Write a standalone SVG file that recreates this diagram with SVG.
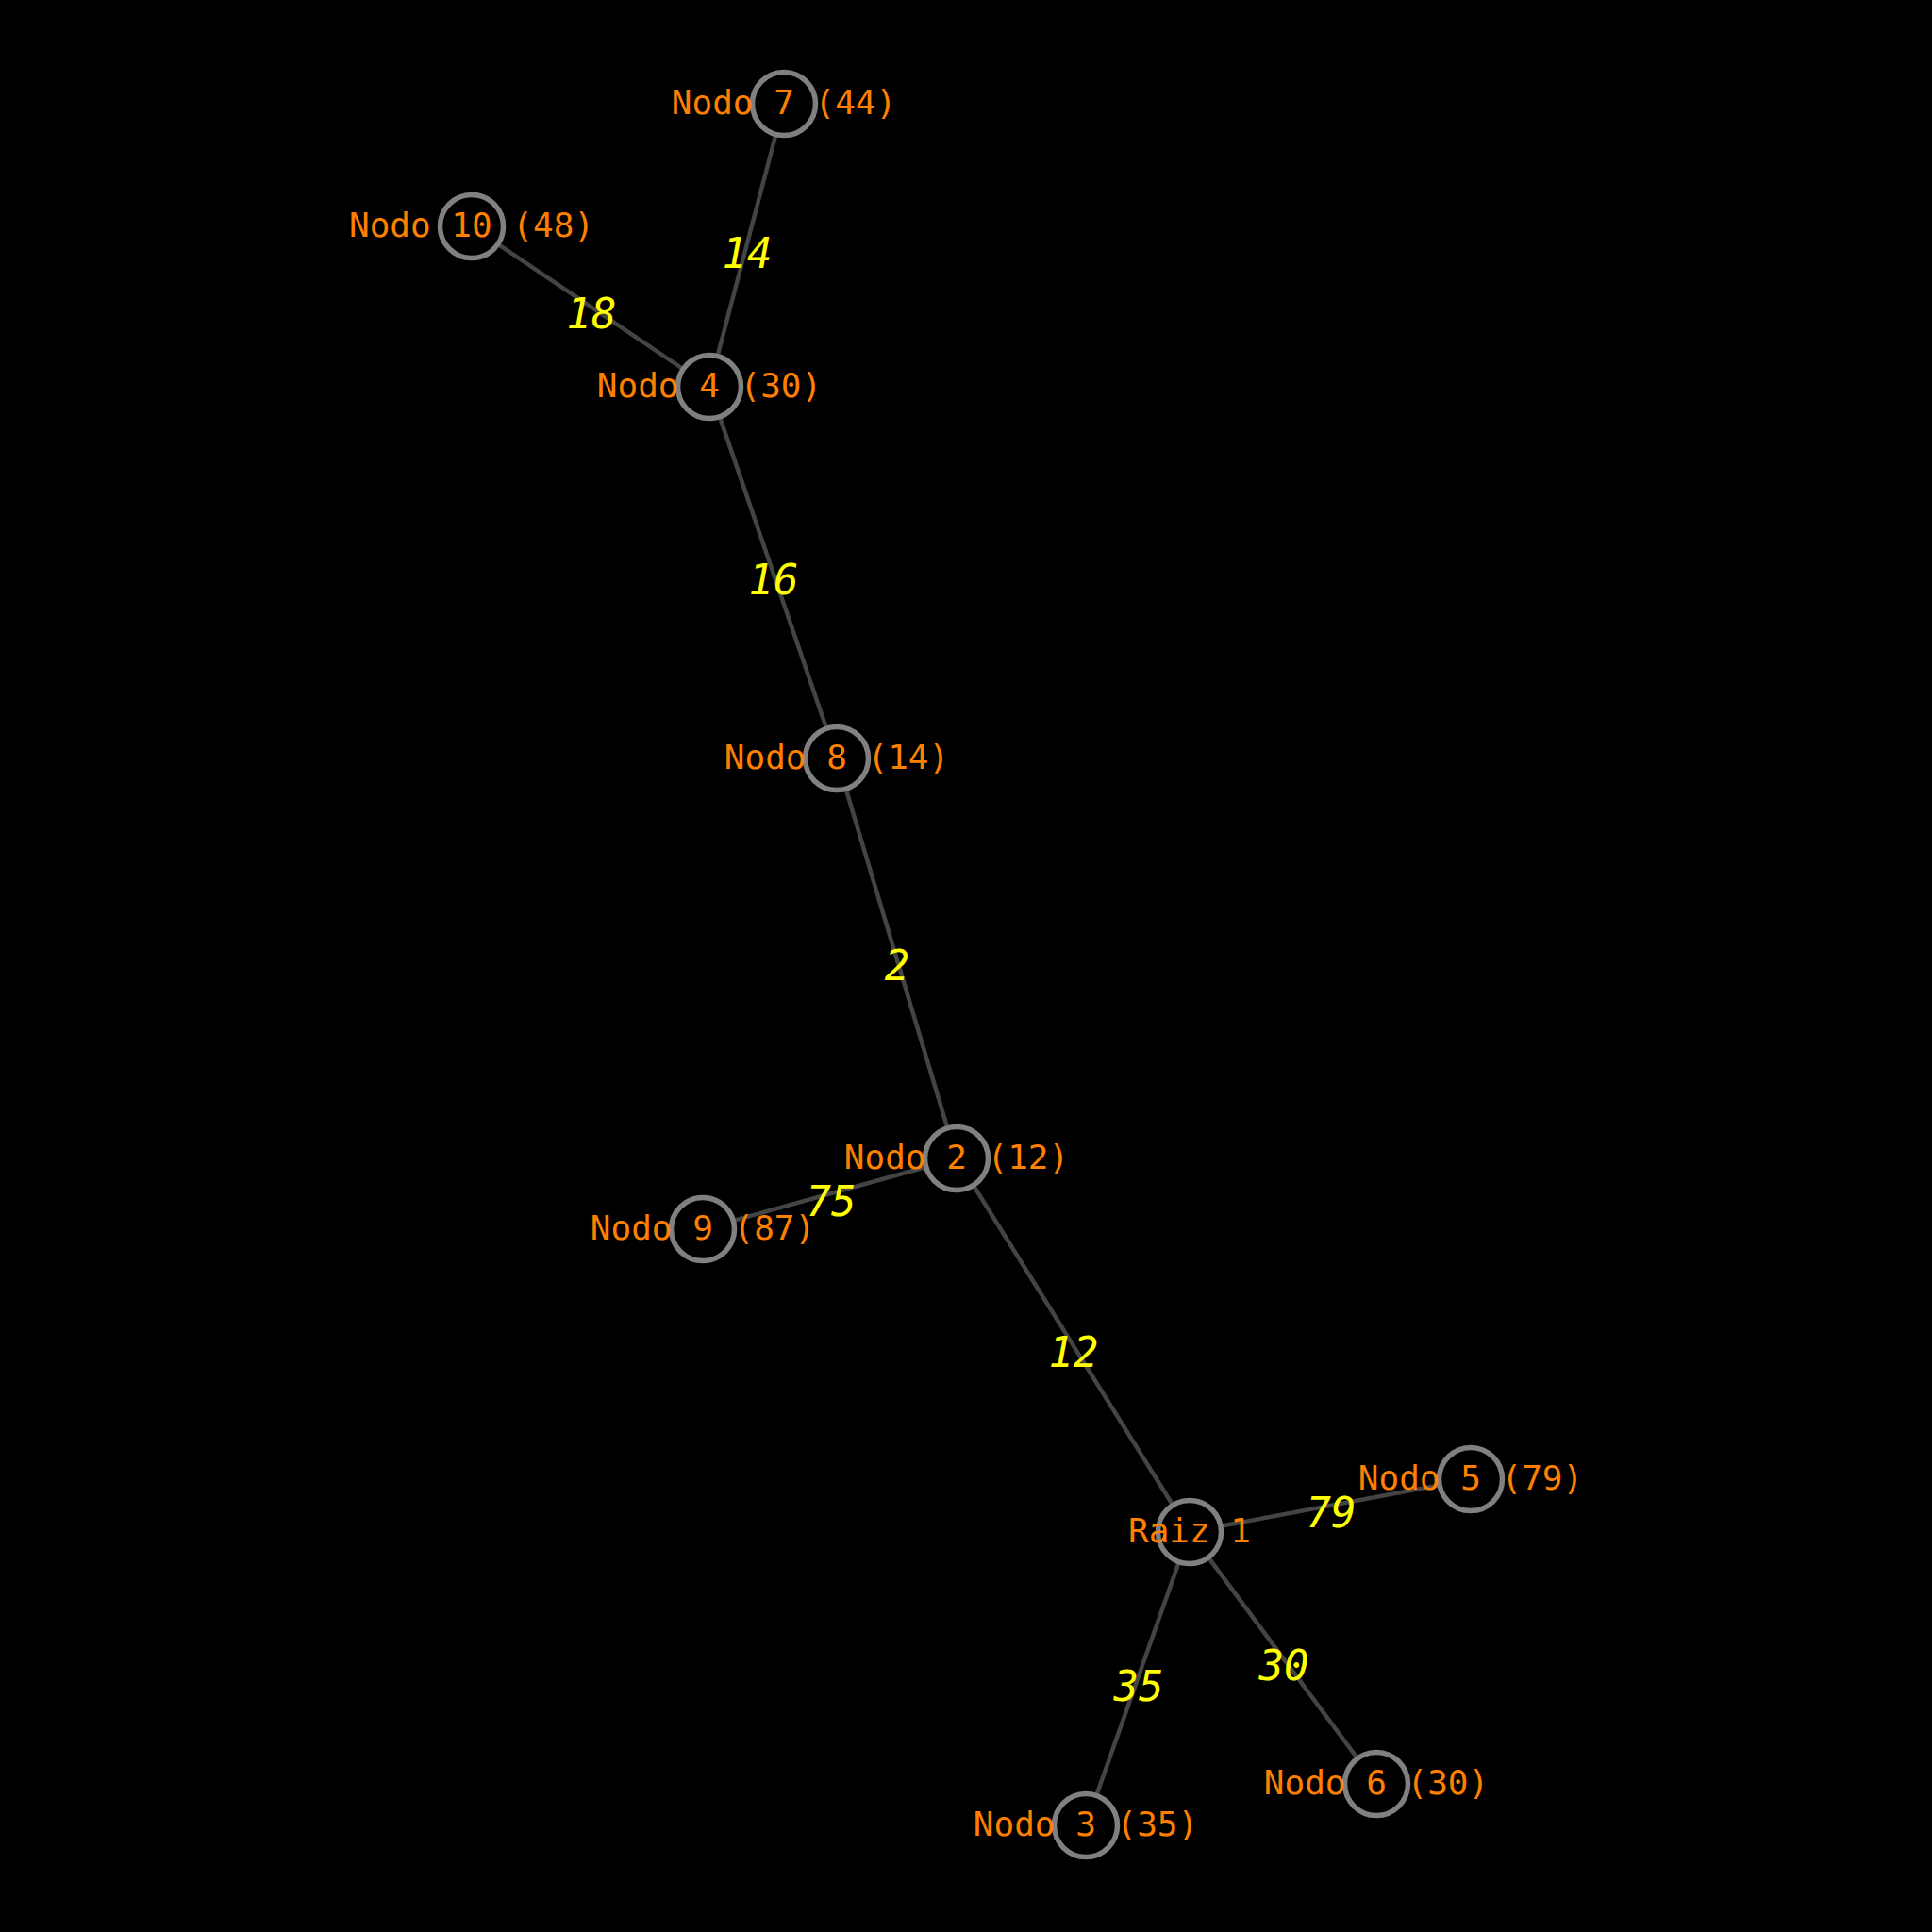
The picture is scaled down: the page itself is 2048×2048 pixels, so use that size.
<svg xmlns="http://www.w3.org/2000/svg" width="2048" height="2048" viewBox="0 0 2048 2048">
<style>
.edge{stroke:#444444;stroke-width:4.5;fill:none}
.node circle{fill:#000000;stroke:#808080;stroke-width:5.5}
.node text{font-family:"DejaVu Sans Mono","Liberation Mono",monospace;font-size:36px;fill:#ff8000;text-anchor:middle}
.elabel{font-family:"DejaVu Sans Mono","Liberation Mono",monospace;font-size:44px;font-style:italic;fill:#ffff00;text-anchor:middle}
</style>
<rect x="0" y="0" width="2048" height="2048" fill="#000000"/>
<g id="connectors">
<line class="edge" x1="831" y1="110" x2="752" y2="410"/>
<line class="edge" x1="500" y1="240" x2="752" y2="410"/>
<line class="edge" x1="752" y1="410" x2="887" y2="804"/>
<line class="edge" x1="887" y1="804" x2="1014" y2="1228"/>
<line class="edge" x1="1014" y1="1228" x2="745" y2="1303"/>
<line class="edge" x1="1014" y1="1228" x2="1261" y2="1624"/>
<line class="edge" x1="1261" y1="1624" x2="1559" y2="1568"/>
<line class="edge" x1="1261" y1="1624" x2="1459" y2="1891"/>
<line class="edge" x1="1261" y1="1624" x2="1151" y2="1935"/>
</g>
<g id="node7" class="node"><circle cx="831" cy="110" r="33.5"/><text x="831" y="121">Nodo 7 (44)</text></g>
<g id="node10" class="node"><circle cx="500" cy="240" r="33.5"/><text x="500" y="251">Nodo 10 (48)</text></g>
<g id="node4" class="node"><circle cx="752" cy="410" r="33.5"/><text x="752" y="421">Nodo 4 (30)</text></g>
<g id="node8" class="node"><circle cx="887" cy="804" r="33.5"/><text x="887" y="815">Nodo 8 (14)</text></g>
<g id="node2" class="node"><circle cx="1014" cy="1228" r="33.5"/><text x="1014" y="1239">Nodo 2 (12)</text></g>
<g id="node9" class="node"><circle cx="745" cy="1303" r="33.5"/><text x="745" y="1314">Nodo 9 (87)</text></g>
<g id="node1" class="node"><circle cx="1261" cy="1624" r="33.5"/><text x="1261" y="1635">Raiz 1</text></g>
<g id="node5" class="node"><circle cx="1559" cy="1568" r="33.5"/><text x="1559" y="1579">Nodo 5 (79)</text></g>
<g id="node6" class="node"><circle cx="1459" cy="1891" r="33.5"/><text x="1459" y="1902">Nodo 6 (30)</text></g>
<g id="node3" class="node"><circle cx="1151" cy="1935" r="33.5"/><text x="1151" y="1946">Nodo 3 (35)</text></g>
<g id="edge-labels">
<text class="elabel" x="792" y="284">14</text>
<text class="elabel" x="627" y="348">18</text>
<text class="elabel" x="820" y="630">16</text>
<text class="elabel" x="951" y="1039">2</text>
<text class="elabel" x="881" y="1289">75</text>
<text class="elabel" x="1138" y="1449">12</text>
<text class="elabel" x="1411" y="1619">79</text>
<text class="elabel" x="1361" y="1781">30</text>
<text class="elabel" x="1207" y="1803">35</text>
</g>
</svg>
